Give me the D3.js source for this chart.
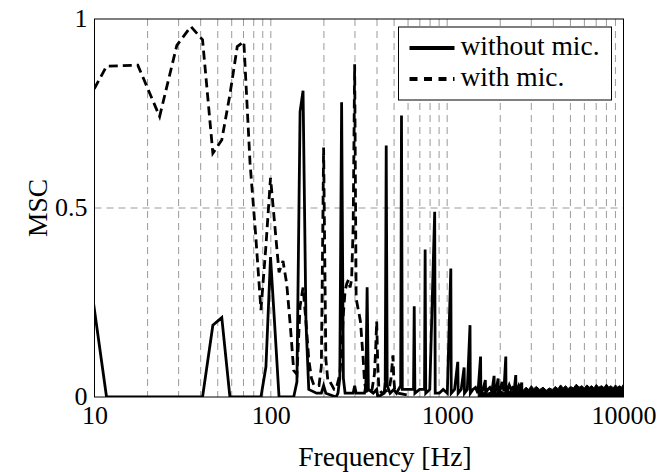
<!DOCTYPE html>
<html>
<head>
<meta charset="utf-8">
<script src="https://cdn.jsdelivr.net/npm/d3@7"></script>
<style>
  body { margin: 0; background: #fff; }
  text { font-family: "Liberation Serif", "Times New Roman", serif; fill: #000; }
</style>
</head>
<body>
<div id="chart"></div>
<script>
// plot box
var MARGIN = { top: 19, right: 46.5, bottom: 75, left: 94.5 };
var WIDTH = 670 - MARGIN.left - MARGIN.right;
var HEIGHT = 472 - MARGIN.top - MARGIN.bottom;
var FONT = "26px";
var FONT_BIG = "27.5px";

// without mic. (solid) : frequency bins [Hz] and MSC
var freqWithout = [5.9, 11.7, 41.0, 46.9, 52.7, 58.6, 87.9, 93.8, 99.6, 105.5, 111.3, 134.8, 140.6, 146.5, 152.3, 158.2, 164.1,
  181.6, 193.4, 199.2, 205.1, 234.4, 240.2, 246.1, 252.0, 257.8, 263.7, 293.0, 298.8, 304.7, 339.8, 345.7, 351.6, 357.4,
  380.9, 398.4, 404.3, 439.5, 445.3, 451.2, 457.0, 474.6, 498.0, 515.6, 544.9, 550.8, 556.6, 597.7, 644.5, 650.4, 656.2,
  697.3, 744.1, 750.0, 755.9, 796.9, 849.6, 855.5, 902.3, 949.2, 1001.9, 1048.8, 1054.7, 1101.6, 1148.4, 1154.3, 1201.2,
  1248.0, 1253.9, 1300.8, 1347.6, 1353.5, 1400.4, 1447.3, 1494.1, 1546.9, 1552.7, 1599.6, 1646.5, 1652.3, 1699.2, 1746.1,
  1793.0, 1845.7, 1851.6, 1898.4, 1945.3, 1951.2, 2003.9, 2050.8, 2097.7, 2150.4, 2156.3, 2203.1, 2250.0, 2302.7, 2349.6,
  2402.3, 2449.2, 2455.1, 2502.0, 2548.8, 2601.6, 2648.4, 2654.3];
var mscWithout = [1.0, 0, 0, 0.19, 0.21, 0, 0, 0.08, 0.37, 0.18, 0, 0, 0.04, 0.755, 0.81, 0.2, 0.02,
  0.01, 0.01, 0.03, 0.01, 0, 0.01, 0.05, 0.78, 0.05, 0.01, 0.01, 0.03, 0.01, 0.01, 0.03, 0.29, 0.02,
  0.01, 0.02, 0, 0.01, 0.04, 0.665, 0.03, 0.01, 0.02, 0.01, 0.03, 0.745, 0.02, 0.02, 0.02, 0.24, 0.01,
  0.02, 0.02, 0.39, 0.01, 0.02, 0.49, 0.01, 0.01, 0.02, 0.01, 0.34, 0.01, 0.02, 0.093, 0.01, 0.02,
  0.078, 0.01, 0.02, 0.19, 0.01, 0.02, 0.025, 0.01, 0.107, 0.01, 0.02, 0.045, 0.01, 0.02, 0.025,
  0.015, 0.056, 0.01, 0.02, 0.049, 0.01, 0.02, 0.04, 0.015, 0.107, 0.01, 0.02, 0.032, 0.02, 0.025,
  0.02, 0.058, 0.01, 0.02, 0.03, 0.02, 0.038, 0.01];

// noise floor of "without mic." above ~1.5 kHz (upper envelope of the dense bins)
var noiseFreq = [1500, 1600, 1700, 1800, 1900, 2000, 2100, 2200, 2300, 2400, 2500, 2600, 2700, 2800, 2900, 3000, 3100, 3200,
  3350, 3500, 3650, 3800, 3950, 4100, 4250, 4400, 4550, 4700, 4850, 5000, 5200, 5400, 5600, 5800, 6000, 6200, 6400, 6600,
  6800, 7000, 7250, 7500, 7750, 8000, 8250, 8500, 8750, 9000, 9250, 9500, 9750, 10000];
var noiseTop = [0.01, 0.012, 0.01, 0.015, 0.012, 0.016, 0.012, 0.018, 0.014, 0.02, 0.016, 0.022, 0.018, 0.026, 0.02, 0.03, 0.022, 0.028,
  0.02, 0.026, 0.018, 0.024, 0.02, 0.028, 0.022, 0.032, 0.024, 0.03, 0.022, 0.028, 0.024, 0.034, 0.026, 0.03, 0.024, 0.032, 0.026, 0.03,
  0.024, 0.033, 0.026, 0.03, 0.025, 0.034, 0.026, 0.03, 0.024, 0.032, 0.026, 0.03, 0.026, 0.034];

// with mic. (dashed)
var freqWith = [5.9, 11.7, 17.6, 23.4, 29.3, 35.2, 41.0, 46.9, 52.7, 58.6, 64.5, 70.3, 76.2, 82.0, 87.9, 93.8, 99.6, 105.5,
  111.3, 117.2, 123.0, 128.9, 134.8, 140.6, 146.5, 152.3, 158.2, 164.1, 169.9, 175.8, 181.6, 187.5, 193.4, 199.2, 205.1,
  210.9, 216.8, 222.7, 228.5, 234.4, 240.2, 246.1, 252.0, 257.8, 263.7, 269.5, 275.4, 281.3, 287.1, 293.0, 298.8, 304.7,
  310.5, 316.4, 322.3, 328.1, 334.0, 339.8, 345.7, 357.4, 375.0, 386.7, 392.6, 398.4, 404.3, 410.2, 427.7, 468.8, 480.5,
  486.3, 492.2, 498.0, 503.9, 527.3, 600.0];
var mscWith = [0.62, 0.875, 0.878, 0.742, 0.93, 0.98, 0.945, 0.645, 0.68, 0.80, 0.927, 0.94, 0.62, 0.43, 0.23, 0.40, 0.58, 0.45,
  0.33, 0.36, 0.30, 0.19, 0.07, 0.06, 0.24, 0.29, 0.2, 0.1, 0.05, 0.03, 0.03, 0.03, 0.08, 0.66, 0.1,
  0.04, 0.04, 0.03, 0.02, 0.02, 0.04, 0.06, 0.12, 0.22, 0.28, 0.30, 0.31, 0.29, 0.31, 0.45, 0.88, 0.26,
  0.24, 0.22, 0.20, 0.15, 0.10, 0.04, 0.02, 0.01, 0.02, 0.06, 0.12, 0.2, 0.08, 0.02, 0.01, 0.02, 0.05,
  0.08, 0.11, 0.05, 0.02, 0.01, 0.005];

var xTicks = [10, 100, 1000, 10000];
var yTicks = [0, 0.5, 1];
var seriesNames = ["without mic.", "with mic."];

var svg = d3.select("#chart")
  .append("svg")
  .attr("width", 670)
  .attr("height", 472)
  .append("g")
  .attr("transform", "translate(" + MARGIN.left + "," + MARGIN.top + ")");

var x = d3.scaleLog().domain([10, 10000]).range([0, WIDTH]);
var y = d3.scaleLinear().domain([0, 1]).range([HEIGHT, 0]);

// grid
var gridX = x.ticks().filter(function (d) { return d > 10 && d < 10000; });
svg.append("g").selectAll("line")
  .data(gridX)
  .enter()
  .append("line")
  .attr("x1", function (d) { return x(d); })
  .attr("x2", function (d) { return x(d); })
  .attr("y1", 0)
  .attr("y2", HEIGHT)
  .attr("stroke", "#9a9a9a")
  .attr("stroke-width", 1)
  .attr("stroke-dasharray", "7,5");

svg.append("line")
  .attr("x1", 0).attr("x2", WIDTH)
  .attr("y1", y(0.5)).attr("y2", y(0.5))
  .attr("stroke", "#9a9a9a")
  .attr("stroke-width", 1)
  .attr("stroke-dasharray", "7,5");

// clip
svg.append("clipPath").attr("id", "clip")
  .append("rect").attr("width", WIDTH).attr("height", HEIGHT);

var plot = svg.append("g").attr("clip-path", "url(#clip)");

var line = d3.line()
  .x(function (d) { return x(d[0]); })
  .y(function (d) { return y(d[1]); });

// noise band
var noise = d3.zip(noiseFreq, noiseTop);
plot.append("path")
  .datum(noise)
  .attr("d", d3.area()
    .x(function (d) { return x(d[0]); })
    .y0(y(0))
    .y1(function (d) { return y(d[1]); }))
  .attr("fill", "#000")
  .attr("stroke", "#000")
  .attr("stroke-width", 1);

plot.append("path")
  .datum(d3.zip(freqWithout, mscWithout))
  .attr("d", line)
  .attr("fill", "none")
  .attr("stroke", "#000")
  .attr("stroke-width", 2.8)
  .attr("stroke-linejoin", "miter");

plot.append("path")
  .datum(d3.zip(freqWith, mscWith))
  .attr("d", line)
  .attr("fill", "none")
  .attr("stroke", "#000")
  .attr("stroke-width", 2.8)
  .attr("stroke-dasharray", "9,5");

// frame
svg.append("rect")
  .attr("width", WIDTH)
  .attr("height", HEIGHT)
  .attr("fill", "none")
  .attr("stroke", "#000")
  .attr("stroke-width", 1);

// axes
var xAxis = d3.axisBottom(x).tickValues(xTicks).tickFormat(d3.format("d")).tickSize(0).tickPadding(10);
var gx = svg.append("g")
  .attr("transform", "translate(0," + HEIGHT + ")")
  .call(xAxis);
gx.select(".domain").remove();
gx.selectAll("text")
  .attr("dy", null)
  .attr("y", 27)
  .style("font-size", FONT)
  .style("font-family", "Liberation Serif, serif");

var yAxis = d3.axisLeft(y).tickValues(yTicks).tickFormat(function (d) { return d === 0.5 ? "0.5" : d3.format("d")(d); }).tickSize(0).tickPadding(7);
var gy = svg.append("g").call(yAxis);
gy.select(".domain").remove();
gy.selectAll("text")
  .attr("dy", "0.3em")
  .style("font-size", FONT)
  .style("font-family", "Liberation Serif, serif");

// axis labels
svg.append("text")
  .attr("x", WIDTH / 2 + 26)
  .attr("y", HEIGHT + 69)
  .attr("text-anchor", "middle")
  .style("font-size", FONT_BIG)
  .text("Frequency [Hz]");

svg.append("text")
  .attr("transform", "rotate(-90)")
  .attr("x", -HEIGHT / 2)
  .attr("y", -48)
  .attr("text-anchor", "middle")
  .style("font-size", FONT_BIG)
  .text("MSC");

// legend
var legend = svg.append("g").attr("transform", "translate(304,8)");
legend.append("rect")
  .attr("width", 213)
  .attr("height", 73)
  .attr("fill", "#fff")
  .attr("stroke", "#000")
  .attr("stroke-width", 1);

seriesNames.forEach(function (name, i) {
  var ly = 21 + i * 31;
  legend.append("line")
    .attr("x1", 11).attr("x2", 56)
    .attr("y1", ly).attr("y2", ly)
    .attr("stroke", "#000")
    .attr("stroke-width", 4)
    .attr("stroke-dasharray", i === 1 ? "8,6.5" : null);
  legend.append("text")
    .attr("x", 62)
    .attr("y", ly + 7)
    .style("font-size", FONT_BIG)
    .text(name);
});
</script>
</body>
</html>
